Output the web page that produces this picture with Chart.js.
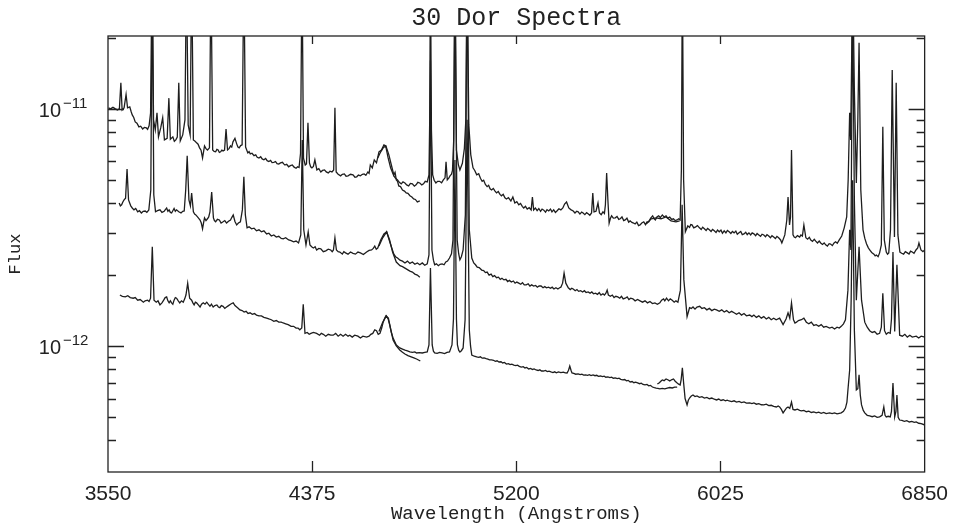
<!DOCTYPE html>
<html>
<head>
<meta charset="utf-8">
<script src="https://cdn.jsdelivr.net/npm/chart.js@4.4.1/dist/chart.umd.min.js"></script>
<style>
    html, body { margin: 0; padding: 0; background: #fff; }
    #wrap { width: 958px; height: 529px; }
</style>
</head>
<body>
<div id="wrap"><canvas id="spectraChart" width="958" height="529"></canvas></div>
<script>
// Each spectrum piece is a list of [wavelength (A), flux in units of 1e-12]
// Top spectrum, blue arm
const topBlue = [[3552,10.1],[3560,10.0],[3570,10.15],[3580,10.0],[3588,9.9],[3596,10.0],[3602,12.9],[3607,9.9],[3615,10.1],[3623,11.5],
    [3629,10.1],[3638,10.2],[3644,9.7],[3648,9.43],[3654,9.2],[3660,8.81],[3667,8.7],[3675,8.40],[3682,8.45],[3690,8.23],
    [3697,8.35],[3705,8.31],[3710,8.2],[3716,8.48],[3722,9.6],[3728,40],[3734,9.0],[3741,8.15],[3748,9.62],[3754,7.62],
    [3763,8.31],[3771,9.17],[3778,7.40],[3789,7.51],[3796,11.1],[3802,7.45],[3812,7.62],[3818,7.3],[3824,7.40],[3830,7.6],
    [3836,12.9],[3842,7.33],[3852,7.77],[3861,8.99],[3867,40],[3874,8.56],[3882,7.77],[3888,40],[3895,7.40],[3902,7.3],
    [3908,7.19],[3914,7.1],[3920,6.85],[3926,6.7],[3932,6.21],[3940,6.98],[3946,6.8],[3952,6.71],[3960,6.85],[3966,40],
    [3973,6.71],[3979,6.62],[3985,6.59],[3990,6.75],[3995,6.71],[4000,6.55],[4005,6.59],[4010,6.7],[4015,6.65],[4021,6.7],
    [4027,8.23],[4033,6.71],[4039,6.8],[4045,6.98],[4050,6.9],[4055,7.26],[4063,7.51],[4070,7.12],[4075,6.9],[4080,6.85],
    [4086,7.0],[4092,7.05],[4099,40],[4106,6.9],[4115,6.52],[4120,6.6],[4125,6.46],[4132,6.5],[4140,6.35],[4147,6.4],
    [4153,6.25],[4160,6.2],[4167,6.28],[4173,6.15],[4180,6.1],[4187,6.18],[4193,6.05],[4200,6.0],[4207,6.06],[4213,5.94],
    [4220,5.95],[4227,6.0],[4233,5.88],[4240,5.85],[4247,5.92],[4255,5.95],[4260,5.86],[4265,5.8],[4272,5.84],[4280,5.7],
    [4287,5.76],[4295,5.8],[4302,5.68],[4310,5.62],[4316,5.7],[4322,5.66],[4328,6.5],[4334,40],[4340,6.2],[4347,5.80],
    [4352,5.86],[4358,8.73],[4364,5.92],[4369,5.7],[4374,5.64],[4380,5.72],[4386,6.09],[4394,5.53],[4402,5.6],[4410,5.42],
    [4417,5.5],[4425,5.53],[4432,5.42],[4440,5.37],[4447,5.46],[4455,5.42],[4462,5.53],[4467,10.1],[4472,5.42],[4480,5.3],
    [4490,5.22],[4497,5.3],[4505,5.32],[4512,5.2],[4520,5.22],[4530,5.3],[4540,5.27],[4548,5.15],[4555,5.17],[4562,5.26],
    [4570,5.22],[4578,5.3],[4585,5.32],[4592,5.25],[4600,5.42],[4605,5.35],[4610,5.80],[4618,5.64],[4626,6.09],[4635,5.92],
    [4645,6.59],[4655,6.71],[4665,7.05],[4673,6.98],[4685,6.40],[4695,5.80],[4705,5.27],[4710,5.4],[4715,5.02],[4720,4.95],
    [4725,4.73],[4732,4.7],[4740,4.55],[4748,4.5],[4755,4.42],[4762,4.4],[4770,4.30],[4778,4.25],[4785,4.17],[4792,4.15],
    [4800,4.05],[4810,4.09]];

// Top spectrum, red arm
const topRed = [[4640,6.21],[4652,6.59],[4662,6.85],[4672,6.98],[4682,6.21],[4692,5.64],[4705,5.22],[4712,5.1],[4720,5.02],[4727,4.9],
    [4735,4.83],[4742,4.92],[4750,4.87],[4757,4.78],[4765,4.73],[4772,4.85],[4780,4.83],[4788,4.72],[4795,4.78],[4802,4.9],
    [4810,4.87],[4818,4.78],[4825,4.83],[4832,4.95],[4840,4.92],[4847,5.27],[4850,8.99],[4853,40],[4857,8.15],[4862,5.27],
    [4868,5.0],[4875,4.87],[4882,4.95],[4890,4.95],[4898,4.88],[4905,5.02],[4912,5.12],[4916,5.98],[4921,5.02],[4927,5.1],
    [4932,5.22],[4938,5.3],[4942,5.5],[4947,7.40],[4952,40],[4958,6.71],[4966,5.8],[4972,5.53],[4982,5.9],[4990,6.8],
    [4996,8.99],[5001,40],[5008,8.56],[5016,6.40],[5025,5.64],[5032,5.5],[5040,5.27],[5048,5.33],[5055,5.1],[5062,4.95],
    [5068,5.0],[5075,4.8],[5082,4.7],[5088,4.76],[5094,4.6],[5100,4.55],[5107,4.62],[5114,4.5],[5120,4.42],[5127,4.48],
    [5134,4.36],[5140,4.30],[5147,4.36],[5154,4.22],[5160,4.17],[5168,4.22],[5178,4.09],[5186,4.25],[5194,4.01],[5202,4.06],
    [5210,3.94],[5217,3.99],[5224,3.88],[5230,3.82],[5237,3.88],[5244,3.78],[5252,3.83],[5260,3.75],[5265,4.25],[5270,3.75],
    [5277,3.82],[5284,3.72],[5291,3.8],[5298,3.7],[5304,3.78],[5311,3.74],[5318,3.67],[5324,3.76],[5331,3.71],[5338,3.78],
    [5344,3.68],[5351,3.75],[5358,3.66],[5365,3.72],[5372,3.79],[5380,3.75],[5388,3.82],[5395,3.97],[5403,4.05],[5412,3.82],
    [5420,3.76],[5430,3.71],[5437,3.64],[5444,3.7],[5450,3.68],[5457,3.6],[5464,3.67],[5470,3.64],[5477,3.58],[5484,3.65],
    [5490,3.61],[5497,3.56],[5504,3.64],[5509,4.42],[5514,3.68],[5522,3.70],[5530,4.01],[5536,3.64],[5543,3.58],[5550,3.68],
    [5556,3.62],[5560,3.94],[5565,5.37],[5570,4.13],[5575,3.30],[5580,3.45],[5585,3.54],[5592,3.46],[5600,3.47],[5607,3.52],
    [5614,3.42],[5620,3.44],[5627,3.5],[5634,3.38],[5640,3.40],[5647,3.46],[5654,3.33],[5660,3.37],[5667,3.32],[5674,3.3],
    [5680,3.27],[5687,3.33],[5694,3.22],[5700,3.24],[5707,3.3],[5715,3.34],[5722,3.25],[5728,3.34],[5735,3.34],[5743,3.46],
    [5751,3.54],[5757,3.44],[5762,3.40],[5768,3.5],[5775,3.54],[5782,3.48],[5790,3.57],[5797,3.5],[5805,3.54],[5812,3.46],
    [5820,3.50],[5828,3.42],[5835,3.44],[5842,3.38],[5850,3.40],[5856,3.44],[5862,3.40],[5867,5.53],[5871,40],[5876,5.02],
    [5883,3.03],[5893,3.21],[5900,3.16],[5905,3.25],[5910,3.24],[5917,3.15],[5925,3.18],[5932,3.22],[5940,3.15],[5947,3.1],
    [5953,3.17],[5960,3.12],[5967,3.07],[5973,3.13],[5980,3.09],[5987,3.04],[5993,3.1],[6000,3.06],[6007,3.01],[6013,3.08],
    [6020,3.03],[6027,3.08],[6033,2.99],[6040,3.06],[6047,3.0],[6053,3.07],[6060,3.03],[6067,2.98],[6073,3.04],[6080,3.00],
    [6087,3.05],[6093,2.96],[6100,3.00],[6107,3.04],[6113,2.95],[6120,2.97],[6127,3.02],[6133,2.95],[6140,3.00],[6147,2.94],
    [6153,3.0],[6160,2.97],[6167,2.92],[6173,2.98],[6180,2.94],[6187,2.9],[6193,2.96],[6200,2.94],[6207,2.89],[6213,2.95],
    [6220,2.91],[6227,2.86],[6233,2.92],[6240,2.88],[6247,2.84],[6253,2.9],[6260,2.86],[6268,2.80],[6273,2.72],[6285,2.94],
    [6293,3.4],[6298,4.25],[6304,3.24],[6308,3.5],[6312,6.71],[6318,2.94],[6323,2.88],[6328,2.86],[6336,2.92],[6345,2.88],
    [6350,2.94],[6356,2.91],[6362,3.24],[6370,2.86],[6377,2.82],[6384,2.87],[6390,2.80],[6397,2.76],[6404,2.82],[6410,2.77],
    [6417,2.72],[6424,2.77],[6430,2.72],[6437,2.68],[6444,2.72],[6450,2.67],[6457,2.64],[6464,2.7],[6470,2.69],[6477,2.65],
    [6484,2.72],[6490,2.75],[6497,2.71],[6505,2.80],[6515,2.91],[6525,3.15],[6535,3.50],[6541,5.02],[6547,9.62],[6551,7.40],
    [6555,16.1],[6559,40],[6566,12.0],[6574,4.87],[6580,8.99],[6585,19.0],[6592,4.55],[6601,3.09],[6608,2.85],[6615,2.70],
    [6622,2.6],[6628,2.54],[6636,2.48],[6645,2.44],[6650,2.4],[6655,2.42],[6662,2.38],[6668,2.47],[6675,2.67],[6681,8.40],
    [6687,2.80],[6695,2.49],[6700,2.44],[6705,2.47],[6712,3.09],[6719,14.6],[6728,2.88],[6735,12.9],[6742,2.94],[6750,2.49],
    [6757,2.46],[6765,2.44],[6772,2.5],[6780,2.47],[6787,2.44],[6793,2.51],[6800,2.49],[6807,2.46],[6815,2.54],[6822,2.59],
    [6827,2.72],[6835,2.54],[6843,2.5],[6850,2.54]];

// Top spectrum, second trace where two exposures overlap
const topOverlap = [[5725,3.27],[5745,3.44],[5765,3.47],[5785,3.44],[5805,3.50],[5825,3.37],[5845,3.34],[5860,3.37]];

// Middle spectrum, blue arm
const midBlue = [[3595,4.01],[3600,3.9],[3605,3.94],[3610,4.05],[3615,4.13],[3621,4.2],[3627,5.58],[3633,4.13],[3638,4.0],[3642,3.90],
    [3648,3.82],[3655,3.75],[3662,3.8],[3670,3.68],[3677,3.72],[3685,3.64],[3692,3.7],[3700,3.71],[3707,3.66],[3715,3.75],
    [3723,4.55],[3729,40],[3735,4.34],[3742,3.68],[3750,3.72],[3760,3.75],[3768,3.66],[3777,3.70],[3787,3.82],[3792,3.7],
    [3797,3.75],[3802,3.66],[3807,3.64],[3812,3.72],[3817,3.80],[3822,3.7],[3827,3.75],[3836,3.68],[3845,3.64],[3852,3.7],
    [3858,3.71],[3864,4.55],[3870,6.34],[3877,4.13],[3883,3.9],[3888,4.42],[3895,3.68],[3900,3.6],[3905,3.57],[3910,3.52],
    [3915,3.47],[3922,3.40],[3927,3.3],[3932,3.12],[3936,3.3],[3940,3.47],[3946,3.38],[3952,3.44],[3957,3.5],[3962,3.68],
    [3969,4.46],[3976,3.47],[3980,3.38],[3985,3.34],[3992,3.42],[4000,3.40],[4007,3.3],[4015,3.34],[4022,3.38],[4029,3.30],
    [4037,3.36],[4045,3.40],[4050,3.48],[4056,3.57],[4063,3.35],[4070,3.24],[4077,3.3],[4085,3.34],[4093,3.75],[4099,5.17],
    [4105,3.57],[4112,3.15],[4120,3.18],[4130,3.12],[4140,3.14],[4150,3.06],[4160,3.09],[4170,3.03],[4180,3.06],[4191,2.97],
    [4200,2.99],[4210,2.91],[4220,2.94],[4230,2.88],[4240,2.9],[4250,2.84],[4258,2.83],[4268,2.86],[4280,2.80],[4290,2.78],
    [4300,2.75],[4310,2.77],[4320,2.72],[4329,2.94],[4335,7.40],[4341,3.09],[4350,2.67],[4359,3.03],[4366,2.67],[4373,2.62],
    [4380,2.59],[4387,2.62],[4393,2.54],[4402,2.58],[4410,2.57],[4420,2.5],[4430,2.52],[4440,2.56],[4450,2.54],[4456,2.5],
    [4461,2.54],[4467,2.86],[4473,2.54],[4480,2.5],[4487,2.49],[4497,2.44],[4503,2.5],[4510,2.47],[4520,2.44],[4530,2.49],
    [4540,2.46],[4550,2.44],[4560,2.49],[4570,2.47],[4582,2.43],[4595,2.49],[4605,2.53],[4615,2.54],[4622,2.58],[4628,2.64],
    [4634,2.56],[4640,2.59],[4652,2.80],[4665,2.97],[4676,3.03],[4688,2.80],[4700,2.49],[4715,2.26],[4730,2.18],[4740,2.16],
    [4750,2.13],[4760,2.1],[4770,2.07],[4780,2.05],[4790,2.01],[4800,1.99],[4810,1.95]];

// Middle spectrum, red arm
const midRed = [[4645,2.64],[4660,2.86],[4676,3.03],[4690,2.72],[4705,2.44],[4712,2.38],[4720,2.35],[4730,2.3],[4740,2.28],[4750,2.24],
    [4760,2.28],[4770,2.23],[4780,2.26],[4790,2.21],[4800,2.24],[4810,2.2],[4820,2.24],[4830,2.19],[4840,2.22],[4847,2.42],
    [4853,16.0],[4859,2.54],[4865,2.3],[4870,2.20],[4877,2.22],[4885,2.18],[4892,2.21],[4900,2.22],[4908,2.2],[4915,2.26],
    [4922,2.28],[4930,2.35],[4938,2.45],[4944,2.80],[4952,40],[4961,2.80],[4967,2.45],[4972,2.31],[4978,2.38],[4985,2.54],
    [4994,3.57],[5001,40],[5010,3.09],[5020,2.35],[5028,2.24],[5035,2.20],[5042,2.15],[5050,2.14],[5060,2.09],[5068,2.08],
    [5075,2.04],[5082,2.05],[5090,1.99],[5098,2.01],[5105,1.96],[5112,1.98],[5120,1.94],[5128,1.95],[5135,1.91],[5142,1.93],
    [5150,1.90],[5158,1.91],[5165,1.87],[5172,1.89],[5180,1.86],[5188,1.88],[5195,1.84],[5202,1.86],[5210,1.84],[5218,1.82],
    [5225,1.85],[5232,1.81],[5240,1.81],[5248,1.83],[5255,1.79],[5262,1.81],[5270,1.79],[5278,1.8],[5285,1.77],[5292,1.79],
    [5300,1.79],[5308,1.76],[5315,1.78],[5322,1.76],[5330,1.77],[5338,1.75],[5345,1.77],[5352,1.74],[5360,1.76],[5368,1.74],
    [5375,1.76],[5380,1.77],[5387,1.84],[5393,2.03],[5400,1.84],[5410,1.76],[5418,1.73],[5424,1.75],[5430,1.74],[5438,1.71],
    [5445,1.73],[5452,1.7],[5460,1.71],[5468,1.69],[5475,1.71],[5482,1.68],[5490,1.69],[5498,1.67],[5505,1.69],[5512,1.66],
    [5520,1.67],[5528,1.65],[5535,1.68],[5542,1.64],[5550,1.66],[5556,1.64],[5562,1.67],[5567,1.72],[5572,1.64],[5580,1.62],
    [5588,1.64],[5595,1.6],[5602,1.62],[5610,1.61],[5618,1.59],[5625,1.62],[5632,1.58],[5640,1.59],[5648,1.61],[5655,1.57],
    [5662,1.59],[5671,1.58],[5680,1.55],[5690,1.57],[5700,1.55],[5710,1.53],[5720,1.55],[5730,1.52],[5740,1.54],[5750,1.51],
    [5760,1.52],[5770,1.5],[5780,1.52],[5787,1.56],[5795,1.58],[5800,1.55],[5807,1.59],[5815,1.55],[5822,1.58],[5830,1.56],
    [5838,1.53],[5845,1.55],[5853,1.53],[5863,1.72],[5870,3.94],[5877,1.90],[5890,1.33],[5900,1.45],[5907,1.44],[5914,1.46],
    [5922,1.43],[5930,1.46],[5941,1.47],[5950,1.44],[5960,1.45],[5970,1.42],[5980,1.44],[5990,1.41],[6000,1.43],[6009,1.42],
    [6020,1.4],[6030,1.42],[6040,1.39],[6050,1.41],[6060,1.38],[6070,1.4],[6080,1.38],[6090,1.36],[6100,1.38],[6110,1.35],
    [6120,1.37],[6130,1.34],[6143,1.35],[6152,1.33],[6160,1.35],[6170,1.32],[6180,1.34],[6190,1.31],[6200,1.33],[6210,1.3],
    [6220,1.32],[6230,1.29],[6240,1.31],[6250,1.29],[6264,1.31],[6278,1.23],[6290,1.30],[6298,1.38],[6305,1.31],[6312,1.52],
    [6320,1.29],[6326,1.25],[6332,1.26],[6340,1.28],[6352,1.29],[6362,1.31],[6372,1.26],[6382,1.24],[6392,1.26],[6402,1.22],
    [6412,1.23],[6422,1.21],[6432,1.23],[6442,1.2],[6452,1.21],[6466,1.19],[6476,1.2],[6486,1.18],[6496,1.2],[6505,1.19],
    [6513,1.21],[6522,1.24],[6530,1.29],[6540,1.72],[6547,3.09],[6552,2.54],[6559,30],[6566,4.13],[6574,1.56],[6585,2.62],
    [6595,1.56],[6608,1.26],[6618,1.2],[6628,1.16],[6638,1.14],[6648,1.15],[6658,1.12],[6668,1.13],[6675,1.2],[6681,1.67],
    [6688,1.16],[6695,1.12],[6703,1.14],[6711,1.13],[6716,1.3],[6722,2.49],[6729,1.15],[6738,2.20],[6749,1.11],[6760,1.1],
    [6770,1.12],[6780,1.09],[6790,1.11],[6800,1.09],[6816,1.10],[6826,1.08],[6836,1.1],[6851,1.09]];

// Bottom spectrum, blue arm
const botBlue = [[3598,1.64],[3608,1.62],[3620,1.61],[3630,1.63],[3640,1.6],[3652,1.59],[3660,1.6],[3670,1.56],[3680,1.57],[3693,1.53],
    [3700,1.55],[3710,1.56],[3716,1.54],[3722,1.59],[3729,2.62],[3736,1.56],[3745,1.53],[3752,1.55],[3760,1.49],[3768,1.52],
    [3775,1.56],[3781,1.6],[3787,1.61],[3792,1.55],[3797,1.52],[3802,1.55],[3807,1.52],[3812,1.5],[3817,1.56],[3822,1.6],
    [3827,1.59],[3834,1.55],[3840,1.52],[3847,1.55],[3854,1.53],[3860,1.58],[3865,1.64],[3872,1.84],[3880,1.59],[3888,1.56],
    [3893,1.52],[3898,1.49],[3903,1.53],[3908,1.52],[3915,1.49],[3922,1.46],[3928,1.5],[3935,1.52],[3942,1.5],[3949,1.53],
    [3955,1.5],[3962,1.47],[3968,1.5],[3975,1.46],[3982,1.48],[3990,1.49],[3996,1.46],[4002,1.45],[4008,1.48],[4015,1.47],
    [4022,1.44],[4029,1.46],[4037,1.48],[4045,1.50],[4050,1.51],[4056,1.52],[4063,1.48],[4070,1.46],[4077,1.44],[4083,1.42],
    [4092,1.41],[4100,1.39],[4108,1.4],[4116,1.37],[4124,1.38],[4133,1.36],[4142,1.37],[4150,1.35],[4160,1.34],[4170,1.34],
    [4180,1.32],[4191,1.31],[4200,1.3],[4210,1.29],[4220,1.27],[4230,1.28],[4240,1.26],[4250,1.26],[4258,1.25],[4268,1.24],
    [4278,1.23],[4290,1.21],[4300,1.21],[4310,1.19],[4318,1.19],[4325,1.17],[4333,1.19],[4339,1.50],[4346,1.13],[4355,1.14],
    [4363,1.12],[4370,1.13],[4380,1.14],[4393,1.13],[4405,1.11],[4412,1.13],[4420,1.12],[4430,1.1],[4440,1.12],[4450,1.11],
    [4460,1.11],[4470,1.13],[4480,1.1],[4490,1.12],[4500,1.1],[4510,1.12],[4520,1.1],[4527,1.11],[4537,1.09],[4547,1.11],
    [4560,1.10],[4570,1.08],[4580,1.1],[4595,1.09],[4605,1.1],[4612,1.12],[4620,1.13],[4628,1.17],[4635,1.16],[4642,1.12],
    [4649,1.13],[4656,1.19],[4662,1.26],[4668,1.31],[4673,1.34],[4683,1.31],[4693,1.17],[4702,1.06],[4715,1.00],[4729,0.962],
    [4740,0.94],[4750,0.925],[4762,0.91],[4775,0.899],[4786,0.89],[4797,0.881],[4812,0.864]];

// Bottom spectrum, red arm
const botRed = [[4645,1.15],[4652,1.2],[4660,1.26],[4668,1.3],[4675,1.34],[4682,1.3],[4688,1.23],[4695,1.14],[4702,1.08],[4715,1.01],
    [4729,0.981],[4740,0.97],[4750,0.96],[4760,0.953],[4770,0.945],[4780,0.94],[4790,0.944],[4797,0.934],[4808,0.938],[4820,0.934],
    [4830,0.94],[4840,0.943],[4847,1.01],[4853,2.13],[4860,1.01],[4865,0.95],[4870,0.934],[4880,0.93],[4890,0.94],[4900,0.934],
    [4910,0.928],[4920,0.94],[4930,0.943],[4940,1.01],[4946,1.3],[4952,6.09],[4958,1.3],[4962,1.01],[4967,0.96],[4972,0.943],
    [4978,0.955],[4985,0.981],[4993,1.29],[5001,8.99],[5010,1.17],[5015,1.0],[5020,0.916],[5030,0.905],[5040,0.899],[5048,0.895],
    [5055,0.9],[5062,0.888],[5070,0.890],[5078,0.884],[5085,0.88],[5092,0.874],[5100,0.873],[5108,0.87],[5115,0.862],[5122,0.866],
    [5130,0.856],[5138,0.858],[5145,0.848],[5152,0.852],[5160,0.839],[5168,0.842],[5175,0.834],[5182,0.838],[5190,0.831],[5198,0.826],
    [5205,0.83],[5212,0.82],[5220,0.815],[5228,0.818],[5235,0.808],[5242,0.812],[5250,0.80],[5258,0.804],[5265,0.796],[5272,0.8],
    [5280,0.792],[5288,0.788],[5295,0.793],[5302,0.784],[5310,0.784],[5318,0.788],[5325,0.78],[5332,0.783],[5340,0.777],[5348,0.772],
    [5355,0.778],[5362,0.771],[5370,0.777],[5380,0.772],[5390,0.775],[5398,0.77],[5405,0.769],[5411,0.79],[5416,0.823],[5421,0.79],
    [5425,0.769],[5432,0.766],[5440,0.76],[5450,0.762],[5458,0.757],[5465,0.761],[5472,0.754],[5480,0.755],[5488,0.752],[5495,0.757],
    [5502,0.75],[5510,0.755],[5518,0.749],[5525,0.752],[5532,0.745],[5540,0.747],[5548,0.742],[5555,0.746],[5562,0.738],[5570,0.740],
    [5578,0.736],[5585,0.739],[5592,0.731],[5600,0.733],[5608,0.728],[5615,0.731],[5622,0.723],[5630,0.719],[5638,0.722],[5645,0.713],
    [5652,0.716],[5660,0.705],[5668,0.708],[5675,0.7],[5682,0.703],[5690,0.698],[5698,0.693],[5705,0.697],[5712,0.688],[5720,0.685],
    [5728,0.688],[5735,0.679],[5742,0.682],[5750,0.671],[5758,0.667],[5765,0.664],[5772,0.662],[5780,0.659],[5790,0.662],[5800,0.659],
    [5810,0.664],[5820,0.668],[5830,0.665],[5840,0.67],[5850,0.671]];

// Bottom spectrum, far red exposure
const botFar = [[5770,0.691],[5778,0.7],[5785,0.712],[5790,0.719],[5797,0.714],[5805,0.726],[5812,0.72],[5820,0.712],[5827,0.72],[5835,0.726],
    [5842,0.71],[5850,0.698],[5856,0.69],[5862,0.685],[5866,0.72],[5871,0.808],[5876,0.7],[5882,0.6],[5890,0.564],[5895,0.59],
    [5900,0.603],[5907,0.615],[5914,0.621],[5922,0.612],[5930,0.616],[5940,0.607],[5950,0.611],[5960,0.603],[5970,0.607],[5980,0.599],
    [5990,0.603],[6000,0.596],[6009,0.592],[6018,0.597],[6027,0.589],[6036,0.593],[6045,0.587],[6052,0.591],[6060,0.586],[6070,0.582],
    [6080,0.587],[6090,0.58],[6100,0.584],[6110,0.577],[6120,0.581],[6130,0.574],[6143,0.575],[6152,0.571],[6160,0.575],[6170,0.568],
    [6180,0.571],[6190,0.565],[6200,0.564],[6210,0.568],[6220,0.56],[6230,0.562],[6240,0.556],[6251,0.553],[6258,0.558],[6264,0.553],
    [6271,0.54],[6278,0.522],[6285,0.535],[6292,0.548],[6298,0.553],[6305,0.545],[6312,0.580],[6318,0.54],[6326,0.537],[6336,0.541],
    [6345,0.535],[6352,0.532],[6362,0.535],[6372,0.528],[6382,0.531],[6392,0.524],[6402,0.527],[6412,0.522],[6422,0.526],[6432,0.52],
    [6442,0.524],[6452,0.518],[6466,0.522],[6476,0.518],[6486,0.522],[6496,0.517],[6505,0.52],[6513,0.522],[6522,0.53],[6530,0.547],
    [6536,0.58],[6540,0.652],[6547,0.792],[6553,1.56],[6559,5.0],[6566,1.17],[6574,0.652],[6580,0.66],[6585,0.755],[6590,0.62],
    [6595,0.564],[6602,0.535],[6608,0.522],[6618,0.51],[6628,0.507],[6638,0.503],[6648,0.507],[6658,0.5],[6668,0.502],[6678,0.51],
    [6685,0.553],[6690,0.51],[6695,0.502],[6703,0.505],[6711,0.502],[6716,0.53],[6722,0.698],[6729,0.502],[6734,0.53],[6738,0.621],
    [6743,0.5],[6749,0.487],[6758,0.485],[6768,0.481],[6778,0.484],[6788,0.478],[6798,0.481],[6808,0.476],[6816,0.478],[6826,0.472],
    [6836,0.47],[6851,0.464]];

// Axis ranges and ticks
const xMin = 3550, xMax = 6850;
const xTicks = [3550, 4375, 5200, 6025, 6850];
const yMin = 0.294, yMax = 20.3;
const yMajor = [1, 10];
const yExponents = ["\u221212", "\u221211"];
const yMinor = [0.3, 0.4, 0.5, 0.6, 0.7, 0.8, 0.9, 2, 3, 4, 5, 6, 7, 8, 9, 20];

function spectrumDataset(pairs) {
    return {
        data: pairs.map(([w, f]) => ({ x: w, y: f })),
        borderColor: "#1e1e1e",
        borderWidth: 1.3,
        pointRadius: 0,
        tension: 0,
        fill: false,
    };
}

// Frame, inward tick marks and the 10^n labels
const framePlugin = {
    id: "frame",
    afterDatasetsDraw(chart) {
        const { ctx, chartArea: a, scales } = chart;
        const x = scales.x, y = scales.y;
        ctx.save();
        ctx.strokeStyle = "#222";
        ctx.lineWidth = 1.3;
        ctx.strokeRect(a.left, a.top, a.right - a.left, a.bottom - a.top);
        ctx.beginPath();
        yMajor.forEach((v) => {
            const p = Math.round(y.getPixelForValue(v)) + 0.5;
            ctx.moveTo(a.left, p); ctx.lineTo(a.left + 16, p);
            ctx.moveTo(a.right, p); ctx.lineTo(a.right - 16, p);
        });
        yMinor.forEach((v) => {
            const p = Math.round(y.getPixelForValue(v)) + 0.5;
            if (p < a.top + 2 || p > a.bottom - 2) return;
            ctx.moveTo(a.left, p); ctx.lineTo(a.left + 8, p);
            ctx.moveTo(a.right, p); ctx.lineTo(a.right - 8, p);
        });
        xTicks.slice(1, -1).forEach((v) => {
            const p = Math.round(x.getPixelForValue(v)) + 0.5;
            ctx.moveTo(p, a.bottom); ctx.lineTo(p, a.bottom - 11);
            ctx.moveTo(p, a.top); ctx.lineTo(p, a.top + 8);
        });
        ctx.stroke();

        ctx.fillStyle = "#222";
        ctx.textBaseline = "alphabetic";
        yMajor.forEach((v, i) => {
            const p = y.getPixelForValue(v);
            ctx.font = "20px 'Liberation Sans'";
            ctx.textAlign = "right";
            ctx.fillText("10", 61, p + 8);
            ctx.font = "15px 'Liberation Sans'";
            ctx.textAlign = "left";
            ctx.fillText(yExponents[i], 63, p - 1);
        });
        ctx.restore();
    },
};

const ctx = document.getElementById("spectraChart");
new Chart(ctx.getContext("2d"), {
    type: "line",
    data: {
        datasets: [
            spectrumDataset(topBlue),
            spectrumDataset(topRed),
            spectrumDataset(topOverlap),
            spectrumDataset(midBlue),
            spectrumDataset(midRed),
            spectrumDataset(botBlue),
            spectrumDataset(botRed),
            spectrumDataset(botFar),
        ],
    },
    options: {
        responsive: false,
        animation: false,
        layout: { padding: { left: 0, right: 33, top: 0, bottom: 0 } },
        scales: {
            x: {
                type: "linear",
                min: xMin,
                max: xMax,
                afterBuildTicks: function (scale) {
                    scale.ticks = xTicks.map((v) => ({ value: v }));
                },
                afterFit: function (scale) {
                    scale.height = 57;
                },
                grid: { display: false, drawTicks: false },
                border: { display: false },
                ticks: {
                    autoSkip: false,
                    maxRotation: 0,
                    padding: 10,
                    color: "#222",
                    font: { family: "Liberation Sans", size: 21 },
                    callback: function (value) {
                        return String(value);
                    },
                },
                title: {
                    display: true,
                    text: "Wavelength (Angstroms)",
                    color: "#222",
                    font: { family: "Liberation Mono", size: 19 },
                    padding: { top: 0, bottom: 4 },
                },
            },
            y: {
                type: "logarithmic",
                min: yMin,
                max: yMax,
                afterFit: function (scale) {
                    scale.width = 108;
                },
                grid: { display: false, drawTicks: false },
                border: { display: false },
                ticks: { display: false },
                title: {
                    display: true,
                    text: "Flux",
                    color: "#222",
                    font: { family: "Liberation Mono", size: 17 },
                    padding: { top: 5, bottom: 0 },
                },
            },
        },
        plugins: {
            legend: { display: false },
            tooltip: { enabled: false },
            title: {
                display: true,
                fullSize: false,
                text: "30 Dor Spectra",
                color: "#222",
                font: { family: "Liberation Mono", size: 25, weight: "normal", lineHeight: 1.2 },
                padding: { top: 3, bottom: 3 },
            },
        },
    },
    plugins: [framePlugin],
});
</script>
</body>
</html>
